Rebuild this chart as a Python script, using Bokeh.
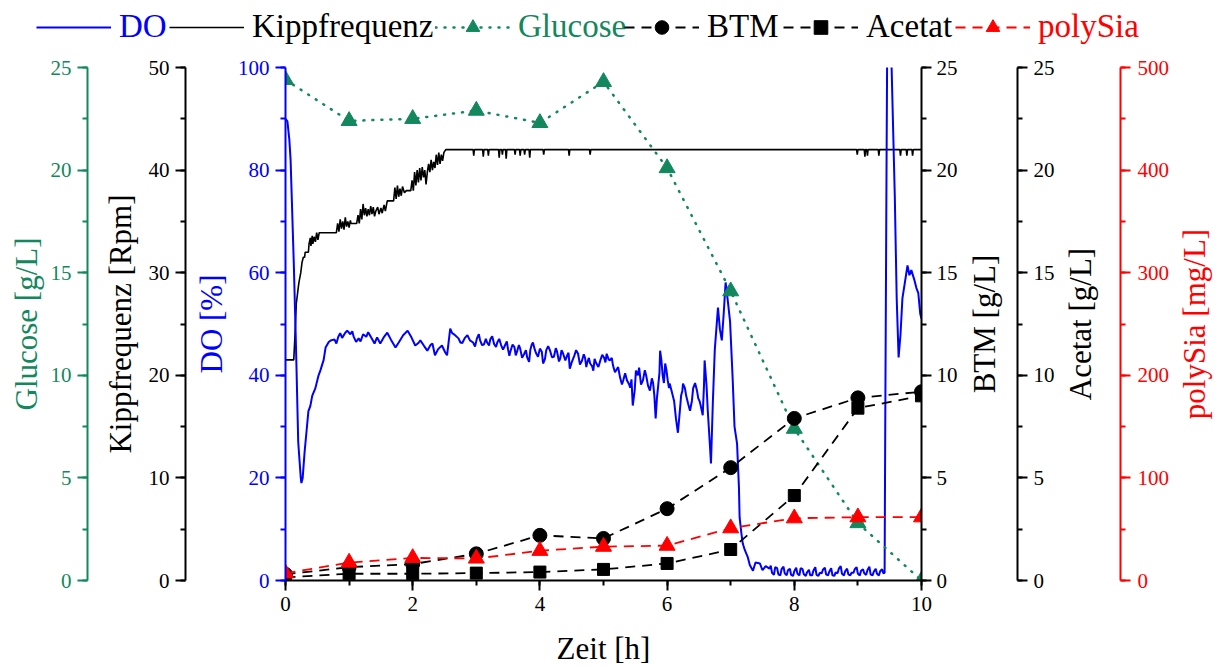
from bokeh.plotting import figure
from bokeh.layouts import row
from bokeh.models import (Range1d, LinearAxis, Legend, LegendItem, SingleIntervalTicker,
                          FixedTicker, Title)
from bokeh.embed import file_html
from bokeh.resources import INLINE

FONT = "Liberation Serif"
BLUE = "#0000FF"
GREEN = "#13875D"
RED = "#FF0000"
BLACK = "#000000"

# Offline samples (h)
zeit = [0, 1, 2, 3, 4, 5, 6, 7, 8, 9, 10]
glucose = [24.4, 22.4, 22.5, 22.9, 22.3, 24.3, 20.1, 14.1, 7.4, 2.8, 0.0]       # g/L
btm = [0.3, 0.65, 0.8, 1.3, 2.2, 2.05, 3.5, 5.5, 7.9, 8.9, 9.2]                   # g/L
acetat = [0.15, 0.33, 0.33, 0.36, 0.41, 0.54, 0.83, 1.51, 4.14, 8.4, 9.0]         # g/L
polysia = [7, 17.5, 22, 21.5, 29, 33, 34, 51, 60.7, 61.7, 61.7]                   # mg/L

# Online DO signal: (time h, DO %)
do_messung = [
    (0.00, 90.0), (0.03, 89.5), (0.06, 86.0), (0.08, 82.0), (0.11, 70.0), (0.13, 62.0),
    (0.16, 48.0), (0.17, 43.0), (0.20, 27.0), (0.24, 20.0), (0.25, 19.0), (0.27, 20.0),
    (0.30, 25.0), (0.33, 29.0), (0.36, 33.0), (0.39, 34.0), (0.42, 36.0), (0.47, 37.5),
    (0.52, 40.0), (0.55, 41.0), (0.60, 43.0), (0.63, 45.4), (0.68, 46.5), (0.71, 46.8),
    (0.77, 47.0), (0.80, 46.2), (0.83, 47.5), (0.86, 48.2), (0.89, 47.3), (0.94, 48.3),
    (0.97, 48.7), (1.02, 48.0), (1.05, 48.6), (1.07, 47.6), (1.11, 46.5), (1.15, 47.2),
    (1.18, 46.6), (1.22, 48.0), (1.27, 47.5), (1.30, 48.4), (1.35, 47.3), (1.40, 46.2),
    (1.44, 47.4), (1.49, 46.2), (1.55, 47.5), (1.60, 48.3), (1.66, 46.9), (1.73, 45.4),
    (1.79, 46.6), (1.85, 47.8), (1.92, 48.7), (1.98, 47.4), (2.04, 45.8), (2.09, 46.3),
    (2.12, 46.8), (2.18, 45.7), (2.23, 44.8), (2.28, 45.9), (2.31, 46.2), (2.35, 43.9),
    (2.40, 45.1), (2.46, 45.8), (2.51, 44.5), (2.54, 43.9), (2.59, 49.1), (2.62, 48.2),
    (2.65, 48.0), (2.72, 47.2), (2.75, 46.4), (2.78, 46.3), (2.82, 47.3), (2.86, 47.8),
    (2.90, 46.8), (2.95, 46.4), (2.98, 45.6), (3.01, 47.2), (3.04, 48.0), (3.06, 46.8),
    (3.09, 45.9), (3.12, 46.0), (3.15, 47.1), (3.17, 46.4), (3.20, 45.8), (3.22, 47.0),
    (3.25, 47.6), (3.28, 46.1), (3.31, 45.5), (3.33, 46.4), (3.36, 47.1), (3.39, 45.9),
    (3.42, 45.0), (3.45, 45.8), (3.48, 46.6), (3.50, 45.0), (3.52, 43.8), (3.53, 44.4),
    (3.57, 46.0), (3.60, 45.5), (3.62, 43.9), (3.64, 44.6), (3.67, 45.9), (3.69, 45.2),
    (3.72, 43.4), (3.75, 44.1), (3.78, 44.9), (3.80, 43.5), (3.83, 42.6), (3.85, 45.0),
    (3.87, 45.9), (3.89, 46.4), (3.92, 45.0), (3.94, 44.3), (3.97, 43.6), (4.00, 45.2),
    (4.03, 44.6), (4.05, 42.3), (4.08, 43.2), (4.10, 44.9), (4.13, 45.7), (4.16, 44.8),
    (4.19, 43.5), (4.22, 43.6), (4.25, 45.3), (4.27, 44.6), (4.30, 42.7), (4.32, 43.3),
    (4.34, 44.9), (4.36, 44.4), (4.40, 42.9), (4.43, 43.9), (4.45, 44.4), (4.47, 41.3),
    (4.50, 42.5), (4.54, 43.8), (4.57, 44.9), (4.60, 44.2), (4.63, 42.1), (4.66, 42.8),
    (4.69, 44.1), (4.71, 43.4), (4.73, 41.6), (4.74, 42.3), (4.77, 43.4), (4.79, 42.3),
    (4.82, 41.8), (4.84, 40.9), (4.86, 43.2), (4.88, 42.5), (4.92, 41.6), (4.95, 42.9),
    (4.98, 44.0), (5.01, 43.4), (5.03, 42.5), (5.05, 44.2), (5.08, 43.1), (5.10, 42.9),
    (5.13, 43.4), (5.15, 41.9), (5.18, 40.6), (5.20, 41.0), (5.23, 41.6), (5.26, 39.6),
    (5.29, 38.2), (5.31, 39.0), (5.34, 40.4), (5.37, 39.0), (5.40, 38.3), (5.42, 37.6),
    (5.44, 39.2), (5.46, 34.1), (5.49, 37.0), (5.51, 40.9), (5.54, 40.0), (5.56, 41.5),
    (5.59, 38.2), (5.62, 39.0), (5.65, 41.0), (5.67, 40.0), (5.70, 38.0), (5.73, 37.0),
    (5.76, 39.4), (5.78, 38.5), (5.80, 36.0), (5.82, 31.6), (5.84, 35.5), (5.86, 38.0),
    (5.88, 40.5), (5.89, 44.8), (5.91, 43.0), (5.93, 40.0), (5.95, 38.5), (5.97, 42.3),
    (5.99, 41.0), (6.01, 39.0), (6.03, 37.5), (6.04, 38.4), (6.07, 37.0), (6.11, 35.0),
    (6.14, 31.5), (6.17, 28.8), (6.20, 33.0), (6.22, 36.0), (6.24, 37.0), (6.25, 38.4),
    (6.28, 37.5), (6.30, 36.0), (6.33, 34.5), (6.36, 33.1), (6.39, 35.0), (6.41, 37.5),
    (6.44, 38.5), (6.47, 37.0), (6.49, 35.5), (6.51, 35.0), (6.53, 34.0), (6.56, 32.2),
    (6.58, 38.0), (6.59, 42.9), (6.62, 38.0), (6.64, 33.0), (6.67, 27.0), (6.69, 22.8),
    (6.72, 35.0), (6.75, 45.0), (6.80, 53.2), (6.83, 49.0), (6.86, 46.8), (6.89, 52.0),
    (6.92, 58.1), (6.95, 55.0), (6.99, 50.5), (7.03, 39.6), (7.06, 30.0), (7.10, 26.7),
    (7.13, 18.0), (7.14, 12.3), (7.17, 9.0), (7.19, 7.2), (7.22, 6.0), (7.27, 4.5),
    (7.30, 3.0), (7.35, 1.9), (7.39, 3.5), (7.46, 3.3), (7.50, 2.0), (7.55, 2.8),
    (7.61, 2.3), (7.63, 2.9), (7.65, 1.5), (7.68, 1.1), (7.70, 2.6), (7.73, 2.4),
    (7.75, 1.2), (7.78, 1.0), (7.80, 2.2), (7.83, 2.7), (7.85, 1.4), (7.88, 1.0),
    (7.90, 2.0), (7.93, 2.3), (7.95, 1.1), (7.98, 0.9), (8.00, 1.8), (8.03, 2.5),
    (8.05, 1.3), (8.08, 1.0), (8.10, 2.4), (8.13, 2.2), (8.15, 1.2), (8.18, 0.9),
    (8.20, 1.6), (8.23, 2.1), (8.25, 1.0), (8.28, 1.0), (8.30, 1.9), (8.33, 2.6),
    (8.35, 1.1), (8.38, 0.9), (8.40, 1.5), (8.43, 1.4), (8.45, 2.1), (8.48, 2.5),
    (8.50, 1.2), (8.53, 1.0), (8.55, 1.7), (8.58, 2.4), (8.60, 1.0), (8.63, 0.9),
    (8.65, 1.6), (8.68, 1.4), (8.70, 2.3), (8.73, 2.8), (8.75, 1.3), (8.78, 1.0),
    (8.80, 1.8), (8.83, 2.3), (8.85, 1.2), (8.88, 1.0), (8.90, 1.5), (8.93, 1.5),
    (8.95, 2.2), (8.98, 2.6), (9.00, 1.3), (9.03, 1.0), (9.05, 1.9), (9.08, 2.2),
    (9.10, 1.4), (9.13, 1.1), (9.15, 2.0), (9.18, 2.7), (9.20, 1.2), (9.23, 1.0),
    (9.25, 1.7), (9.28, 2.3), (9.30, 1.3), (9.33, 1.0), (9.35, 1.8), (9.38, 2.2),
    (9.40, 1.4), (9.42, 1.5), (9.43, 30.0), (9.45, 80.0), (9.47, 125.0), (9.49, 130.0),
    (9.51, 128.0), (9.53, 100.0), (9.58, 75.0), (9.61, 55.0), (9.64, 43.5), (9.67, 48.0),
    (9.70, 55.0), (9.75, 59.0), (9.78, 61.4), (9.81, 59.5), (9.84, 60.5), (9.89, 58.5),
    (9.92, 57.0), (9.95, 56.0), (9.98, 52.0), (10.00, 51.0),
]
do_zeit = [t for t, _ in do_messung]
do_wert = [v for _, v in do_messung]

# Rocking frequency (Rpm)
kipp_zeit = [
    0.00, 0.13, 0.15, 0.17, 0.19, 0.21, 0.24, 0.26, 0.28, 0.30, 0.31, 0.36, 0.37, 0.39, 0.40,
    0.42, 0.43, 0.45, 0.47, 0.49, 0.51, 0.53, 0.55, 0.80, 0.82, 0.84, 0.86, 0.88, 0.90, 0.92,
    0.94, 0.96, 0.98, 1.00, 1.02, 1.03, 1.12, 1.14, 1.16, 1.18, 1.20, 1.22, 1.24, 1.26, 1.28,
    1.30, 1.32, 1.34, 1.36, 1.38, 1.40, 1.42, 1.45, 1.47, 1.50, 1.52, 1.55, 1.57, 1.60, 1.70,
    1.72, 1.74, 1.76, 1.78, 1.80, 1.82, 1.84, 1.87, 1.90, 1.97, 1.99, 2.01, 2.03, 2.05, 2.07,
    2.09, 2.11, 2.13, 2.15, 2.17, 2.19, 2.21, 2.23, 2.25, 2.27, 2.29, 2.31, 2.33, 2.35, 2.37,
    2.39, 2.41, 2.43, 2.45, 2.47, 2.49, 2.52, 2.95, 2.96, 2.97, 3.10, 3.11, 3.12, 3.18, 3.19,
    3.20, 3.35, 3.36, 3.37, 3.40, 3.41, 3.42, 3.46, 3.47, 3.48, 3.60, 3.61, 3.62, 3.68, 3.69,
    3.70, 3.75, 3.76, 3.77, 3.83, 3.84, 3.85, 4.05, 4.06, 4.07, 4.45, 4.46, 4.47, 4.78, 4.79,
    4.80, 8.98, 8.99, 9.00, 9.10, 9.11, 9.12, 9.14, 9.15, 9.16, 9.32, 9.33, 9.34, 9.66, 9.67,
    9.68, 9.76, 9.77, 9.78, 9.85, 9.86, 9.87, 10.00,
]
kipp_wert = [
    21.5, 21.5, 24.0, 27.0, 28.0, 29.0, 30.0, 31.0, 31.5, 31.5, 32.0, 32.0, 32.8, 33.4, 32.6,
    33.6, 32.8, 33.5, 33.0, 33.9, 33.2, 33.9, 33.9, 33.9, 34.8, 34.0, 35.2, 34.3, 35.0, 34.2,
    35.4, 34.5, 35.0, 34.4, 35.1, 34.8, 34.8, 35.6, 34.8, 36.2, 35.2, 36.7, 35.6, 36.3, 35.5,
    36.2, 35.6, 36.5, 35.7, 36.4, 35.5, 36.0, 36.4, 35.7, 36.3, 35.8, 36.6, 36.0, 37.0, 37.0,
    38.3, 37.2, 38.5, 37.4, 38.2, 37.5, 38.4, 37.8, 38.0, 38.0, 39.0, 38.0, 39.8, 38.5, 40.0,
    38.8, 40.2, 39.0, 40.3, 39.3, 40.0, 38.6, 39.8, 40.6, 39.8, 41.0, 40.0, 40.8, 40.2, 41.5,
    40.5, 41.7, 40.6, 41.5, 40.9, 41.7, 42.0, 42.0, 41.4, 42.0, 42.0, 41.3, 42.0, 42.0, 41.4,
    42.0, 42.0, 41.2, 42.0, 42.0, 41.5, 42.0, 42.0, 41.1, 42.0, 42.0, 41.5, 42.0, 42.0, 41.4,
    42.0, 42.0, 41.5, 42.0, 42.0, 41.2, 42.0, 42.0, 41.5, 42.0, 42.0, 41.4, 42.0, 42.0, 41.5,
    42.0, 42.0, 41.5, 42.0, 42.0, 41.3, 42.0, 42.0, 41.4, 42.0, 42.0, 41.4, 42.0, 42.0, 41.4,
    42.0, 42.0, 41.4, 42.0, 42.0, 41.4, 42.0, 42.0,
]


def style_axis(ax, color, title, interval, label_gap=6, title_gap=8):
    ax.ticker = SingleIntervalTicker(interval=interval, num_minor_ticks=2)
    ax.axis_label = title
    ax.axis_line_color = color
    ax.axis_line_width = 2
    ax.major_tick_line_color = color
    ax.minor_tick_line_color = color
    ax.major_tick_line_width = 2
    ax.minor_tick_line_width = 2
    ax.major_tick_out = 10
    ax.major_tick_in = 0
    ax.minor_tick_out = 5
    ax.minor_tick_in = 0
    ax.major_label_text_font = FONT
    ax.major_label_text_font_size = "21px"
    ax.major_label_text_color = color
    ax.major_label_standoff = label_gap
    ax.axis_label_text_font = FONT
    ax.axis_label_text_font_size = "31px"
    ax.axis_label_text_font_style = "normal"
    ax.axis_label_text_color = color
    ax.axis_label_standoff = title_gap
    return ax


def gap_axis(px, range_name):
    # blank axis (one hidden tick, empty label) that only widens the gap between stacked axes
    return LinearAxis(
        y_range_name=range_name, ticker=FixedTicker(ticks=[0]), axis_label=None,
        major_label_overrides={0: ""},
        axis_line_color=None, major_tick_line_color=None, minor_tick_line_color=None,
        major_tick_out=px, major_tick_in=0, minor_tick_out=0, minor_tick_in=0,
        major_label_standoff=0,
    )


# ---- main chart: frame, time axis, the three left axes and the BTM axis ----
p = figure(
    width=960, height=620, output_backend="svg", toolbar_location=None,
    x_range=Range1d(0, 10), y_range=Range1d(0, 100),
    min_border_left=285, min_border_right=38, min_border_top=19, min_border_bottom=88,
)
p.outline_line_color = None
p.xgrid.visible = False
p.ygrid.visible = False

p.extra_y_ranges = {
    "kipp": Range1d(0, 50),
    "glc": Range1d(0, 25),
    "btm": Range1d(0, 25),
    "ace": Range1d(0, 25),
    "psia": Range1d(0, 500),
}

style_axis(p.xaxis[0], BLACK, "Zeit [h]", 2, label_gap=6, title_gap=17)
style_axis(p.yaxis[0], BLUE, "DO [%]", 20, title_gap=6)

p.add_layout(gap_axis(5, "kipp"), "left")
ax_kipp = style_axis(LinearAxis(y_range_name="kipp"), BLACK, "Kippfrequenz [Rpm]", 10, title_gap=8)
p.add_layout(ax_kipp, "left")
p.add_layout(gap_axis(12, "glc"), "left")
ax_glc = style_axis(LinearAxis(y_range_name="glc"), GREEN, "Glucose [g/L]", 5, title_gap=4)
p.add_layout(ax_glc, "left")

ax_btm = style_axis(LinearAxis(y_range_name="btm"), BLACK, None, 5, label_gap=5)
p.add_layout(ax_btm, "right")

# Online traces
r_kipp = p.line(kipp_zeit, kipp_wert, y_range_name="kipp", line_color=BLACK, line_width=1.6)
r_do = p.line(do_zeit, do_wert, line_color=BLUE, line_width=2)

# Offline samples
DASH = "10 7"
GLC_LINE = dict(line_color=GREEN, line_width=2.5, line_dash="1 8", line_cap="round")
GLC_MARK = dict(marker="triangle", fill_color=GREEN, line_color=GREEN)
BTM_LINE = dict(line_color=BLACK, line_width=1.8, line_dash=DASH)
BTM_MARK = dict(marker="circle", fill_color=BLACK, line_color=BLACK)
ACE_LINE = dict(line_color=BLACK, line_width=1.8, line_dash=DASH)
ACE_MARK = dict(marker="square", fill_color=BLACK, line_color=BLACK)
PS_LINE = dict(line_color=RED, line_width=1.8, line_dash=DASH)
PS_MARK = dict(marker="triangle", fill_color=RED, line_color=RED)

p.line(zeit, glucose, y_range_name="glc", **GLC_LINE)
p.scatter(zeit, glucose, y_range_name="glc", size=16, **GLC_MARK)
p.line(zeit, btm, y_range_name="btm", **BTM_LINE)
p.scatter(zeit, btm, y_range_name="btm", size=14, **BTM_MARK)
p.line(zeit, acetat, y_range_name="ace", **ACE_LINE)
p.scatter(zeit, acetat, y_range_name="ace", size=12, **ACE_MARK)
p.line(zeit, polysia, y_range_name="psia", **PS_LINE)
p.scatter(zeit, polysia, y_range_name="psia", size=16, **PS_MARK)


# ---- narrow strips to the right: each carries the title of the axis on its left
#      (as a left-side title, reading bottom-to-top) and the next axis on its right ----
def strip(width, left, right, y_range, title, title_color, axis_loc):
    f = figure(
        width=width, height=620, output_backend="svg", toolbar_location=None,
        x_range=Range1d(0, 1), y_range=y_range,
        x_axis_location=None, y_axis_location=axis_loc,
        min_border_left=left, min_border_right=right, min_border_top=19, min_border_bottom=88,
    )
    f.outline_line_color = None
    f.grid.visible = False
    f.add_layout(Title(
        text=title, align="center", vertical_align="middle", standoff=0, offset=0,
        text_font=FONT, text_font_size="31px", text_font_style="normal", text_color=title_color,
    ), "left")
    return f


s_ace = strip(100, 42, 43, p.extra_y_ranges["ace"], "BTM [g/L]", BLACK, "right")
style_axis(s_ace.yaxis[0], BLACK, None, 5, label_gap=6)
s_ps = strip(115, 38, 55, p.extra_y_ranges["psia"], "Acetat [g/L]", BLACK, "right")
style_axis(s_ps.yaxis[0], RED, None, 100, label_gap=7)
s_end = strip(43, 35, 0, Range1d(0, 1), "polySia [mg/L]", RED, None)

chart = row(p, s_ace, s_ps, s_end)

# ---- legend strip above the chart. Its own ranges keep the series out of view,
#      so only the legend samples show; each entry keeps its own label colour ----
key = figure(
    width=1218, height=48, output_backend="svg", toolbar_location=None,
    x_range=Range1d(100, 101), y_range=Range1d(100, 101),
    x_axis_location=None, y_axis_location=None, min_border=0,
)
key.outline_line_color = None
key.grid.visible = False

k_do = key.line(do_zeit, do_wert, line_color=BLUE, line_width=2)
k_kipp = key.line(kipp_zeit, kipp_wert, line_color=BLACK, line_width=1.6)
k_glc = [key.line(zeit, glucose, **GLC_LINE), key.scatter(zeit, glucose, **GLC_MARK)]
k_btm = [key.line(zeit, btm, **BTM_LINE), key.scatter(zeit, btm, **BTM_MARK)]
k_ace = [key.line(zeit, acetat, **ACE_LINE), key.scatter(zeit, acetat, **ACE_MARK)]
k_ps = [key.line(zeit, polysia, **PS_LINE), key.scatter(zeit, polysia, **PS_MARK)]

entries = [
    ("DO", [k_do], BLUE, 36),
    ("Kippfrequenz", [k_kipp], BLACK, 169),
    ("Glucose", k_glc, GREEN, 435),
    ("BTM", k_btm, BLACK, 624),
    ("Acetat", k_ace, BLACK, 783),
    ("polySia", k_ps, RED, 955),
]
for label, rends, col, xpos in entries:
    key.add_layout(Legend(
        items=[LegendItem(label=label, renderers=rends)],
        location=(xpos, 3),
        orientation="horizontal",
        label_text_font=FONT, label_text_font_size="33px", label_text_color=col,
        glyph_width=75, glyph_height=34, label_standoff=8,
        padding=0, margin=0, spacing=0,
        background_fill_alpha=0, border_line_alpha=0,
    ))

open("out.html", "w").write(file_html([key, chart], INLINE))
